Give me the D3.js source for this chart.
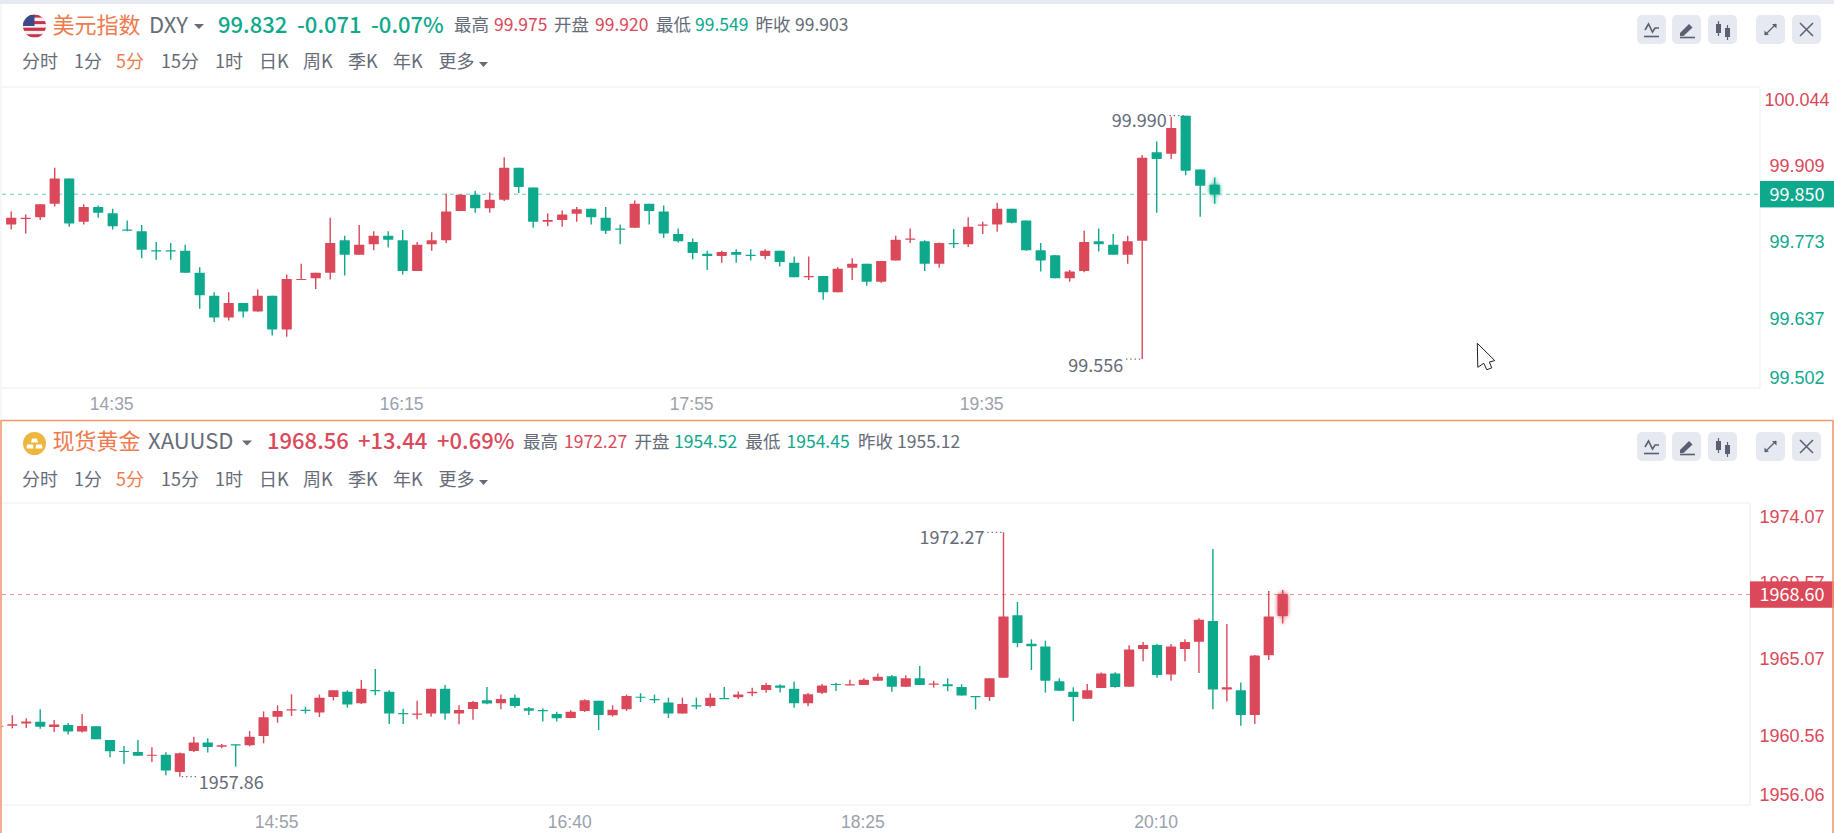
<!DOCTYPE html>
<html>
<head>
<meta charset="utf-8">
<script src="https://cdn.jsdelivr.net/npm/d3@7/dist/d3.min.js"></script>
<style>
  html, body { margin: 0; padding: 0; background: #fff; overflow: hidden; }
  svg { display: block; font-family: "Noto Sans CJK SC", "Noto Sans", sans-serif; }
</style>
</head>
<body>
<svg id="chart" width="1834" height="833"></svg>
<script>
// DXY 5 min candles
const dxyOpen = [99.764,99.796,99.806,99.809,99.833,99.878,99.801,99.827,99.816,99.787,99.784,99.750,99.750,99.749,99.710,99.669,99.630,99.656,99.641,99.669,99.609,99.697,99.700,99.710,99.768,99.742,99.761,99.776,99.768,99.713,99.761,99.768,99.820,99.849,99.825,99.840,99.897,99.862,99.801,99.804,99.815,99.824,99.808,99.789,99.790,99.833,99.819,99.779,99.765,99.744,99.740,99.747,99.742,99.740,99.749,99.728,99.702,99.704,99.675,99.719,99.726,99.694,99.732,99.769,99.766,99.726,99.763,99.761,99.795,99.796,99.824,99.803,99.750,99.741,99.700,99.713,99.766,99.760,99.742,99.767,99.925,99.922,99.990,99.894,99.867];
const dxyHigh = [99.795,99.819,99.814,99.832,99.897,99.878,99.832,99.830,99.824,99.803,99.795,99.765,99.763,99.760,99.720,99.675,99.675,99.656,99.680,99.669,99.707,99.726,99.710,99.808,99.776,99.795,99.784,99.784,99.786,99.765,99.782,99.851,99.850,99.856,99.853,99.916,99.897,99.862,99.816,99.821,99.827,99.824,99.827,99.796,99.839,99.833,99.830,99.789,99.771,99.749,99.749,99.752,99.752,99.752,99.749,99.739,99.739,99.704,99.720,99.736,99.726,99.731,99.776,99.789,99.768,99.764,99.788,99.809,99.801,99.835,99.824,99.803,99.763,99.741,99.715,99.785,99.789,99.779,99.776,99.920,99.944,99.988,99.990,99.894,99.880];
const dxyLow = [99.764,99.787,99.780,99.804,99.828,99.792,99.796,99.808,99.787,99.784,99.736,99.733,99.733,99.710,99.646,99.622,99.625,99.630,99.641,99.598,99.596,99.697,99.681,99.698,99.705,99.742,99.750,99.755,99.707,99.713,99.749,99.763,99.820,99.817,99.817,99.838,99.852,99.790,99.793,99.792,99.801,99.796,99.779,99.761,99.790,99.796,99.772,99.764,99.734,99.715,99.728,99.728,99.732,99.734,99.721,99.702,99.697,99.662,99.675,99.697,99.687,99.692,99.732,99.763,99.713,99.719,99.754,99.756,99.779,99.783,99.798,99.749,99.712,99.700,99.694,99.711,99.748,99.742,99.726,99.556,99.817,99.913,99.884,99.810,99.833];
const dxyClose = [99.795,99.808,99.808,99.832,99.878,99.798,99.827,99.817,99.793,99.785,99.751,99.748,99.748,99.710,99.670,99.630,99.656,99.641,99.669,99.609,99.699,99.699,99.710,99.763,99.742,99.760,99.776,99.769,99.713,99.760,99.768,99.819,99.849,99.825,99.840,99.897,99.863,99.801,99.804,99.814,99.823,99.809,99.785,99.787,99.833,99.820,99.780,99.766,99.745,99.740,99.747,99.742,99.740,99.749,99.729,99.702,99.704,99.675,99.717,99.726,99.694,99.731,99.769,99.771,99.726,99.763,99.761,99.792,99.796,99.824,99.799,99.750,99.732,99.700,99.712,99.765,99.761,99.742,99.766,99.915,99.913,99.968,99.892,99.865,99.850];
const dxyPriceTicks = [100.044, 99.909, 99.773, 99.637, 99.502];
const dxyTimeIdx = [8, 28, 48, 68];
const dxyTimeLabels = ["14:35", "16:15", "17:55", "19:35"];

// XAUUSD 5 min candles
const xauOpen = [1960.81,1960.87,1960.99,1961.10,1960.79,1960.91,1960.52,1960.83,1960.02,1959.38,1959.32,1959.10,1959.16,1958.14,1959.38,1959.87,1959.63,1959.77,1959.71,1960.26,1961.40,1961.77,1961.81,1961.65,1962.56,1962.87,1962.19,1962.97,1962.87,1961.62,1961.52,1961.58,1963.05,1961.58,1961.85,1962.36,1962.19,1962.52,1961.89,1961.79,1961.56,1961.32,1961.73,1962.34,1961.48,1961.83,1962.58,1962.44,1962.24,1961.58,1962.07,1962.03,1962.50,1962.54,1962.78,1962.97,1963.23,1963.05,1962.19,1962.81,1963.33,1963.25,1963.27,1963.52,1963.78,1963.17,1963.66,1963.29,1963.31,1963.15,1962.62,1962.56,1963.70,1967.38,1965.70,1965.53,1963.49,1962.87,1962.46,1963.09,1963.94,1963.17,1965.39,1965.63,1963.88,1965.39,1965.82,1967.04,1963.00,1962.95,1961.50,1965.02,1967.34];
const xauHigh = [1961.01,1961.48,1961.30,1961.83,1961.20,1961.03,1961.56,1960.83,1960.02,1959.67,1960.02,1959.59,1959.30,1959.28,1960.22,1960.12,1959.79,1959.77,1960.55,1961.71,1962.07,1962.72,1961.99,1962.70,1962.95,1962.95,1963.56,1964.21,1962.95,1961.87,1962.34,1963.05,1963.27,1962.07,1962.32,1963.15,1962.70,1962.70,1961.97,1961.89,1961.69,1961.77,1962.42,1962.34,1962.07,1962.70,1962.78,1962.70,1962.52,1962.52,1962.52,1962.78,1963.15,1962.89,1963.11,1963.40,1963.31,1963.48,1962.80,1963.33,1963.40,1963.57,1963.66,1963.94,1963.86,1963.84,1964.39,1963.51,1963.66,1963.31,1962.62,1963.66,1972.27,1968.16,1965.96,1965.88,1963.66,1963.13,1963.33,1964.00,1964.02,1965.61,1965.80,1965.70,1965.69,1965.96,1967.20,1971.29,1966.87,1963.41,1965.04,1968.81,1968.87];
const xauLow = [1960.71,1960.71,1960.73,1960.69,1960.50,1960.34,1960.46,1960.06,1959.00,1958.61,1959.08,1958.73,1957.94,1957.86,1959.32,1959.28,1959.53,1958.45,1959.65,1959.83,1961.05,1961.44,1961.58,1961.38,1962.36,1961.93,1962.15,1962.66,1960.97,1960.97,1961.24,1961.40,1961.22,1960.95,1961.22,1962.13,1961.83,1961.93,1961.50,1961.12,1961.11,1961.30,1961.68,1960.61,1961.40,1961.73,1962.26,1962.19,1961.32,1961.58,1961.83,1961.95,1962.44,1962.44,1962.60,1962.81,1962.83,1961.93,1962.01,1962.74,1962.91,1963.25,1963.27,1963.52,1962.87,1963.17,1963.27,1963.11,1962.90,1962.64,1961.83,1962.33,1963.70,1965.49,1964.15,1962.82,1962.92,1961.13,1962.46,1963.09,1963.11,1963.17,1964.66,1963.70,1963.52,1964.66,1963.98,1961.83,1962.29,1960.87,1960.97,1964.74,1966.89];
const xauClose = [1960.87,1960.95,1961.12,1960.81,1960.93,1960.53,1960.85,1960.06,1959.36,1959.32,1959.10,1959.16,1958.22,1959.24,1959.87,1959.61,1959.71,1959.73,1960.22,1961.36,1961.73,1961.83,1961.75,1962.52,1962.95,1962.11,1963.05,1962.91,1961.58,1961.54,1961.58,1963.05,1961.58,1961.79,1962.26,1962.17,1962.44,1962.03,1961.75,1961.73,1961.30,1961.69,1962.36,1961.50,1961.81,1962.62,1962.52,1962.38,1961.58,1962.15,1962.01,1962.52,1962.44,1962.70,1962.87,1963.27,1963.11,1962.19,1962.72,1963.23,1963.27,1963.31,1963.58,1963.76,1963.17,1963.66,1963.27,1963.35,1963.19,1962.64,1962.56,1963.66,1967.30,1965.74,1965.55,1963.52,1962.92,1962.56,1962.95,1963.94,1963.15,1965.36,1965.63,1963.86,1965.53,1965.80,1967.12,1963.00,1963.13,1961.50,1965.00,1967.30,1968.63];
const xauPriceTicks = [1974.07, 1969.57, 1965.07, 1960.56, 1956.06];
const xauTimeIdx = [20, 41, 62, 83];
const xauTimeLabels = ["14:55", "16:40", "18:25", "20:10"];

const periods = ["分时", "1分", "5分", "15分", "1时", "日K", "周K", "季K", "年K", "更多"];
const periodX = [22, 74, 116, 161, 215, 259, 303, 348, 393, 438.6];

const RED = "#da4859";
const GREEN = "#0ea88c";
const ORANGE = "#ee7a4d";
const GRAY = "#666b78";

const svg = d3.select("#chart");
svg.append("rect").attr("width", 1834).attr("height", 4).attr("fill", "#e7e9f2");

function drawToolbar(g, y) {
  const btnX = [1637, 1672, 1708, 1756, 1792];
  btnX.forEach((bx, i) => {
    const b = g.append("g").attr("transform", `translate(${bx},${y})`);
    b.append("rect").attr("width", 29).attr("height", 29).attr("rx", 5).attr("fill", "#e6e9ef");
    const ink = "#5a6072";
    if (i === 0) {
      b.append("path").attr("d", "M8 15l3.5-6 4 8 2.5-4h4").attr("fill", "none").attr("stroke", ink).attr("stroke-width", 1.6);
      b.append("path").attr("d", "M7 21.5h15").attr("stroke", ink).attr("stroke-width", 1.6);
    } else if (i === 1) {
      b.append("path").attr("d", "M8 18l9-9 3.5 3.5-9 8.5H8z").attr("fill", ink);
      b.append("path").attr("d", "M8 22.5h15").attr("stroke", ink).attr("stroke-width", 1.6);
    } else if (i === 2) {
      b.append("rect").attr("x", 8).attr("y", 9).attr("width", 5).attr("height", 9).attr("fill", ink);
      b.append("path").attr("d", "M10.5 6v15").attr("stroke", ink).attr("stroke-width", 1.2);
      b.append("rect").attr("x", 17).attr("y", 13).attr("width", 5).attr("height", 9).attr("fill", ink);
      b.append("path").attr("d", "M19.5 10v15").attr("stroke", ink).attr("stroke-width", 1.2);
    } else if (i === 3) {
      b.append("path").attr("d", "M9 20l11-11").attr("stroke", ink).attr("stroke-width", 1.2);
      b.append("path").attr("d", "M16 9h4.5v4.5zM8.5 15.5v4.5H13z").attr("fill", ink);
    } else {
      b.append("path").attr("d", "M8 8l13 13M21 8L8 21").attr("stroke", ink).attr("stroke-width", 1.5);
    }
  });
}

// pieces of the quote line: text, x, colour, size, weight
function drawHeader(g, cfg) {
  if (cfg.icon === "flag") {
    const cx = 34.5, cy = cfg.rowY + 1, r = 11.5;
    const clipId = "flagClip";
    g.append("clipPath").attr("id", clipId).append("circle").attr("cx", cx).attr("cy", cy).attr("r", r);
    const f = g.append("g").attr("clip-path", `url(#${clipId})`);
    d3.range(7).forEach(i => {
      f.append("rect").attr("x", cx - r).attr("y", cy - r + i * (2 * r / 7)).attr("width", 2 * r)
        .attr("height", 2 * r / 7).attr("fill", i % 2 ? "#f1f1f4" : "#c9344a");
    });
    f.append("rect").attr("x", cx - r).attr("y", cy - r).attr("width", r).attr("height", r).attr("fill", "#3c4a8a");
  } else {
    const cx = 34.5, cy = cfg.rowY + 2;
    g.append("circle").attr("cx", cx).attr("cy", cy).attr("r", 11.5).attr("fill", "#eeb63c");
    g.append("path").attr("d", `M${cx - 2.5} ${cy - 5}h5l1 4h-7zM${cx - 7.5} ${cy + 1}h6l.5 4h-7zM${cx + 1.5} ${cy + 1}h6l.5 4h-7z`).attr("fill", "#fff");
  }

  cfg.quote.forEach(q => {
    g.append("text").attr("x", q[1]).attr("y", cfg.rowY).attr("dy", "0.36em")
      .attr("fill", q[2]).attr("font-size", q[3]).attr("font-weight", q[4] || 400).text(q[0]);
  });
  g.append("path").attr("d", `M${cfg.arrowX - 5} ${cfg.rowY - 1}h10l-5 5z`).attr("fill", GRAY);

  periods.forEach((p, i) => {
    g.append("text").attr("x", periodX[i]).attr("y", cfg.tabY).attr("dy", "0.36em")
      .attr("font-size", 18).attr("fill", i === 2 ? ORANGE : GRAY).text(p);
  });
  g.append("path").attr("d", `M479 ${cfg.tabY}h9l-4.5 5z`).attr("fill", GRAY);
}

function drawPanel(cfg) {
  const g = svg.append("g");
  const { open, high, low, close } = cfg;

  const x = d3.scaleLinear().domain(cfg.xDomain).range(cfg.xRange);
  const y = d3.scaleLinear().domain(d3.extent(cfg.priceTicks).reverse()).range(cfg.yRange);

  // plot frame
  g.append("path")
    .attr("d", `M2 ${cfg.plotTop}H${cfg.plotRight}V${cfg.plotBottom}H2`)
    .attr("fill", "none").attr("stroke", "#f3f4f7").attr("stroke-width", 1.5);

  // last price line
  g.append("line").attr("x1", 2).attr("x2", cfg.plotRight)
    .attr("y1", y(cfg.last)).attr("y2", y(cfg.last))
    .attr("stroke", cfg.lastColor).attr("stroke-opacity", 0.6)
    .attr("stroke-dasharray", "4 4").attr("stroke-width", 1);

  // y axis
  const yAxis = d3.axisRight(y).tickValues(cfg.priceTicks).tickSize(0).tickFormat(d3.format(cfg.priceFormat));
  const ya = g.append("g").attr("transform", `translate(${cfg.priceX},0)`).call(yAxis);
  ya.select(".domain").remove();
  ya.selectAll(".tick")
    .attr("transform", d => `translate(0,${Math.max(cfg.labelMin, Math.min(cfg.labelMax, y(d) + 4.5))})`);
  ya.selectAll("text").attr("x", 0).attr("dy", "0.36em").attr("text-anchor", "middle")
    .attr("font-family", "inherit").attr("font-size", 18)
    .attr("fill", d => d >= cfg.prevClose ? RED : GREEN);

  // x axis
  const xAxis = d3.axisBottom(x).tickValues(cfg.timeIdx).tickSize(0).tickFormat((d, i) => cfg.timeLabels[i]);
  const xa = g.append("g").attr("transform", `translate(-1.5,${cfg.timeY})`).call(xAxis);
  xa.select(".domain").remove();
  xa.selectAll("text").attr("y", 0).attr("dy", "0.36em")
    .attr("font-family", "inherit").attr("font-size", 17.5).attr("fill", "#9ba1ad");

  // candles
  const clipId = "clip" + cfg.id;
  g.append("clipPath").attr("id", clipId).append("rect")
    .attr("x", 2).attr("y", cfg.plotTop).attr("width", cfg.plotRight - 2).attr("height", cfg.plotBottom - cfg.plotTop);
  const plot = g.append("g").attr("clip-path", `url(#${clipId})`);
  const candles = plot.selectAll("g.candle").data(d3.range(open.length)).enter().append("g").attr("class", "candle");
  const col = i => close[i] >= open[i] ? RED : GREEN;

  candles.append("line")
    .attr("x1", i => x(i)).attr("x2", i => x(i))
    .attr("y1", i => y(high[i])).attr("y2", i => y(low[i]))
    .attr("stroke", col).attr("stroke-width", 1.4);
  candles.append("rect")
    .attr("x", i => x(i) - 5.1).attr("width", 10.2)
    .attr("y", i => y(Math.max(open[i], close[i])))
    .attr("height", i => Math.max(1.2, Math.abs(y(open[i]) - y(close[i]))))
    .attr("fill", col).attr("rx", 0.6);
  candles.filter(i => i === open.length - 1)
    .style("filter", d => `drop-shadow(0 0 2px ${col(d)})`);

  // high / low notes
  cfg.notes.forEach(n => {
    const px = x(n.idx), py = y(n.price);
    const dir = n.side === "left" ? -1 : 1;
    g.append("line").attr("x1", px + dir * 2).attr("x2", px + dir * 17)
      .attr("y1", py).attr("y2", py)
      .attr("stroke", "#666b78").attr("stroke-dasharray", "1.3 3").attr("stroke-width", 1.2);
    g.append("text").attr("x", px + dir * 19).attr("y", py + n.dy).attr("dy", "0.36em")
      .attr("text-anchor", n.side === "left" ? "end" : "start")
      .attr("font-size", 18).attr("fill", GRAY).text(n.text);
  });

  // last price tag
  g.append("rect").attr("x", cfg.plotRight).attr("y", y(cfg.last) - 13.2)
    .attr("width", 1834 - cfg.plotRight).attr("height", 26.4).attr("fill", cfg.lastColor);
  g.append("text").attr("x", cfg.priceX).attr("y", y(cfg.last)).attr("dy", "0.36em")
    .attr("text-anchor", "middle").attr("font-size", 18).attr("fill", "#fff")
    .text(d3.format(cfg.priceFormat)(cfg.last));

  drawHeader(g, cfg);
  drawToolbar(g, cfg.btnY);
}

drawPanel({
  id: "dxy", open: dxyOpen, high: dxyHigh, low: dxyLow, close: dxyClose,
  xDomain: [0, 84], xRange: [-3.3, 1214.7],
  priceTicks: dxyPriceTicks, yRange: [85.4, 389.4], priceFormat: ".3f",
  timeIdx: dxyTimeIdx, timeLabels: dxyTimeLabels, timeY: 404,
  plotTop: 87, plotBottom: 388, plotRight: 1760, priceX: 1797, labelMin: 100, labelMax: 378,
  last: 99.850, lastColor: GREEN, prevClose: 99.85,
  notes: [
    { idx: 82, price: 99.990, side: "left", text: "99.990", dy: 5 },
    { idx: 79, price: 99.556, side: "left", text: "99.556", dy: 6.5 }
  ],
  icon: "flag", rowY: 25, tabY: 62, arrowX: 199, btnY: 15,
  quote: [
    ["美元指数", 52.6, ORANGE, 22], ["DXY", 149, GRAY, 22],
    ["99.832", 218, GREEN, 22, 500], ["-0.071", 297, GREEN, 22, 500], ["-0.07%", 371, GREEN, 22, 500],
    ["最高", 454, GRAY, 17.5], ["99.975", 494, RED, 17.5],
    ["开盘", 554, GRAY, 17.5], ["99.920", 595, RED, 17.5],
    ["最低", 656, GRAY, 17.5], ["99.549", 695, GREEN, 17.5],
    ["昨收", 755.5, GRAY, 17.5], ["99.903", 795, GRAY, 17.5]
  ]
});

drawPanel({
  id: "xau", open: xauOpen, high: xauHigh, low: xauLow, close: xauClose,
  xDomain: [0, 92], xRange: [-1.66, 1282.7],
  priceTicks: xauPriceTicks, yRange: [501.8, 807.2], priceFormat: ".2f",
  timeIdx: xauTimeIdx, timeLabels: xauTimeLabels, timeY: 822,
  plotTop: 503, plotBottom: 805, plotRight: 1750, priceX: 1792, labelMin: 517, labelMax: 795,
  last: 1968.60, lastColor: RED, prevClose: 1955.12,
  notes: [
    { idx: 72, price: 1972.27, side: "left", text: "1972.27", dy: 5.5 },
    { idx: 13, price: 1957.86, side: "right", text: "1957.86", dy: 5.5 }
  ],
  icon: "gold", rowY: 441.5, tabY: 480, arrowX: 247, btnY: 432,
  quote: [
    ["现货黄金", 52.6, ORANGE, 22], ["XAUUSD", 148, GRAY, 22],
    ["1968.56", 267, RED, 22, 500], ["+13.44", 358, RED, 22, 500], ["+0.69%", 437, RED, 22, 500],
    ["最高", 523, GRAY, 17.5], ["1972.27", 564, RED, 17.5],
    ["开盘", 634.5, GRAY, 17.5], ["1954.52", 674, GREEN, 17.5],
    ["最低", 745.6, GRAY, 17.5], ["1954.45", 786.5, GREEN, 17.5],
    ["昨收", 858, GRAY, 17.5], ["1955.12", 897, GRAY, 17.5]
  ]
});

// orange frame of the active panel
svg.append("path").attr("d", "M1 833V420.5H1833V833")
  .attr("fill", "none").attr("stroke", "#f0986e").attr("stroke-width", 1.6);
svg.append("line").attr("x1", 1).attr("x2", 1).attr("y1", 4).attr("y2", 420).attr("stroke", "#eceef3");

// mouse pointer left in the screenshot
svg.append("path")
  .attr("transform", "translate(1477.3,343.3)")
  .attr("d", "M0 0L17.5 17.3L12 18.7L14.5 24.5L9.5 26.5L6.5 20L0.5 24Z")
  .attr("fill", "#fff").attr("stroke", "#222").attr("stroke-width", 1);
</script>
</body>
</html>
